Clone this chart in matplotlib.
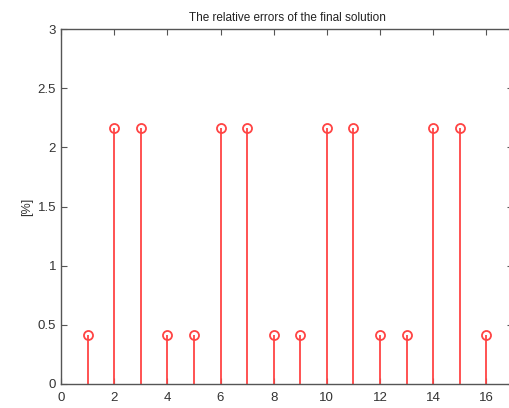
import matplotlib
matplotlib.use('Agg')
import matplotlib.pyplot as plt

x = list(range(1, 17))
errors = [0.41, 2.16, 2.16, 0.41, 0.41, 2.16, 2.16, 0.41,
          0.41, 2.16, 2.16, 0.41, 0.41, 2.16, 2.16, 0.41]
xticks = [0, 2, 4, 6, 8, 10, 12, 14, 16]
yticks = [0, 0.5, 1, 1.5, 2, 2.5, 3]

plt.rcParams['font.family'] = ['Liberation Sans', 'DejaVu Sans']

fig = plt.figure(figsize=(5.1, 4.08), dpi=100)
ax = fig.add_axes([61 / 510, 24 / 408, 452 / 510, 355 / 408])

red = '#ff4444'
markerline, stemlines, baseline = ax.stem(x, errors, basefmt=' ')
plt.setp(stemlines, color=red, linewidth=1.3)
plt.setp(markerline, color=red, marker='o', markerfacecolor='none',
         markeredgecolor=red, markersize=6.5, markeredgewidth=1.3)

ax.set_xlim(0, 17)
ax.set_ylim(0, 3)
ax.set_xticks(xticks)
ax.set_yticks(yticks)
ax.set_yticklabels(['0', '0.5', '1', '1.5', '2', '2.5', '3'])
ax.tick_params(direction='in', top=True, right=True, length=4,
               colors='#555555', labelcolor='#333333', labelsize=9.5, width=0.8)
ax.tick_params(axis='x', pad=6)
for s in ax.spines.values():
    s.set_color('#555555')
    s.set_linewidth(1.0)

ax.set_title('The relative errors of the final solution', fontsize=8.5,
             color='#222222', pad=6)
ax.set_ylabel('[%]', fontsize=9, color='#333333', labelpad=3)

fig.savefig('out.png', dpi=100)
